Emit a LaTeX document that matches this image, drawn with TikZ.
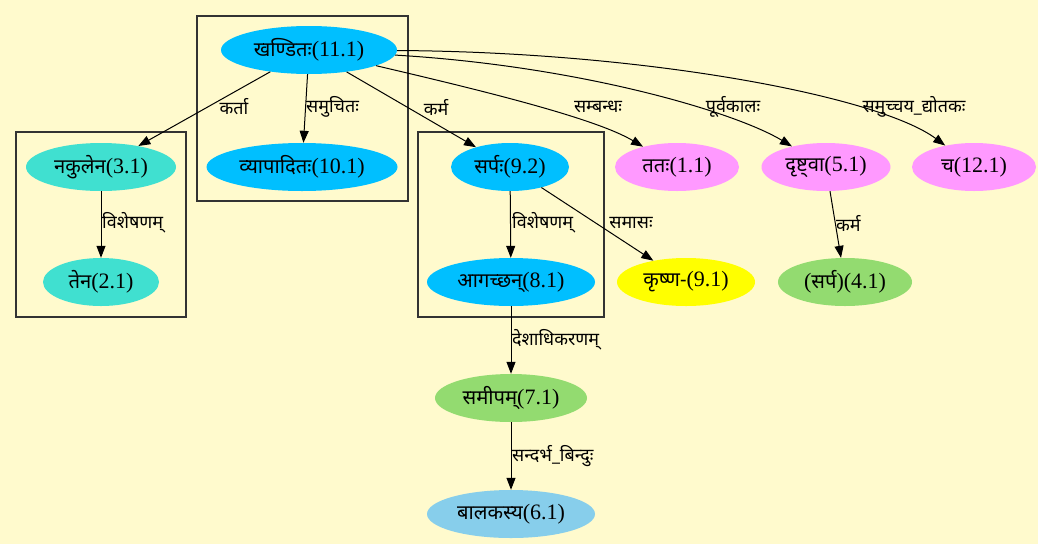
\documentclass[tikz,border=0pt]{standalone}
\usepackage{fontspec}
\setmainfont{Liberation Serif}
\newfontfamily\dev[Script=Devanagari,Scale=0.92]{Noto Sans}
\usetikzlibrary{shapes.geometric,arrows.meta}
\definecolor{bg}{HTML}{FFFACD}
\definecolor{dsky}{HTML}{00BFFF}
\definecolor{turq}{HTML}{40E0D0}
\definecolor{pinkv}{HTML}{FF99FF}
\definecolor{yel}{HTML}{FFFF00}
\definecolor{grn}{HTML}{93DB70}
\definecolor{sky}{HTML}{87CEEB}
\tikzset{
  nd/.style={ellipse, draw=none, inner sep=0pt, minimum height=48pt, font=\fontsize{22}{26}\selectfont},
  lbl/.style={font=\fontsize{19.5}{22}\selectfont, inner sep=1pt},
  edge/.style={draw=black, line width=1pt, -{Triangle[length=12pt,width=9pt]}},
  clus/.style={draw=black!80, line width=1.1pt}
}
\begin{document}
\begin{tikzpicture}[x=1pt,y=-1pt]
\fill[bg] (0,0) rectangle (1038,544);
\useasboundingbox (0,0) rectangle (1038,544);
% clusters
\draw[clus] (197,16) rectangle (408,201);
\draw[clus] (16,132) rectangle (186,317);
\draw[clus] (418,132) rectangle (604,317);
% nodes
\node[nd, fill=dsky, minimum width=176pt] (n11) at (309,50) {{\dev खण्डितः}(11.1)};
\node[nd, fill=dsky, minimum width=191pt] (n10) at (302,167) {{\dev व्यापादितः}(10.1)};
\node[nd, fill=turq, minimum width=150pt] (n3) at (101,167) {{\dev नकुलेन}(3.1)};
\node[nd, fill=turq, minimum width=116pt] (n2) at (101,282) {{\dev तेन}(2.1)};
\node[nd, fill=dsky, minimum width=118pt] (n92) at (510,167) {{\dev सर्पः}(9.2)};
\node[nd, fill=dsky, minimum width=168pt] (n8) at (511,282) {{\dev आगच्छन्}(8.1)};
\node[nd, fill=pinkv, minimum width=124pt] (n1) at (677,167) {{\dev ततः}(1.1)};
\node[nd, fill=pinkv, minimum width=129pt] (n5) at (826,167) {{\dev दृष्ट्वा}(5.1)};
\node[nd, fill=pinkv, minimum width=124pt] (n12) at (974,167) {{\dev च}(12.1)};
\node[nd, fill=yel, minimum width=138pt] (n91) at (686,282) {{\dev कृष्ण-}(9.1)};
\node[nd, fill=grn, minimum width=134pt] (n4) at (845,282) {({\dev सर्प})(4.1)};
\node[nd, fill=grn, minimum width=152pt] (n7) at (511,398) {{\dev समीपम्}(7.1)};
\node[nd, fill=sky, minimum width=168pt] (n6) at (511,514) {{\dev बालकस्य}(6.1)};
% edges
\draw[edge] (n11) -- (n3);
\draw[edge] (n11) -- (n10);
\draw[edge] (n11) -- (n92);
\draw[edge] (n11) .. controls (480,90) and (595,118) .. (n1);
\draw[edge] (n11) .. controls (580,66) and (735,112) .. (n5);
\draw[edge] (n11) .. controls (650,52) and (880,97) .. (n12);
\draw[edge] (n3) -- (n2);
\draw[edge] (n92) -- (n8);
\draw[edge] (n92) -- (n91);
\draw[edge] (n5) -- (n4);
\draw[edge] (n8) -- (n7);
\draw[edge] (n7) -- (n6);
% labels
\node[lbl] (l1) at (234,107) {\dev कर्ता};
\node[lbl, anchor=west] (l2) at (305,107) {\dev समुचितः};
\node[lbl] (l3) at (436,107) {\dev कर्म};
\node[lbl] (l4) at (598,107) {\dev सम्बन्धः};
\node[lbl] (l5) at (733,107) {\dev पूर्वकालः};
\node[lbl] (l6) at (914,107) {\dev समुच्चय\_द्योतकः};
\node[lbl, anchor=west] (l7) at (101,223) {\dev विशेषणम्};
\node[lbl, anchor=west] (l8) at (511,223) {\dev विशेषणम्};
\node[lbl] (l9) at (631,223) {\dev समासः};
\node[lbl, anchor=west] (l10) at (835,223) {\dev कर्म};
\node[lbl, anchor=west] (l11) at (511,340) {\dev देशाधिकरणम्};
\node[lbl, anchor=west] (l12) at (511,456) {\dev सन्दर्भ\_बिन्दुः};
\end{tikzpicture}
\end{document}
